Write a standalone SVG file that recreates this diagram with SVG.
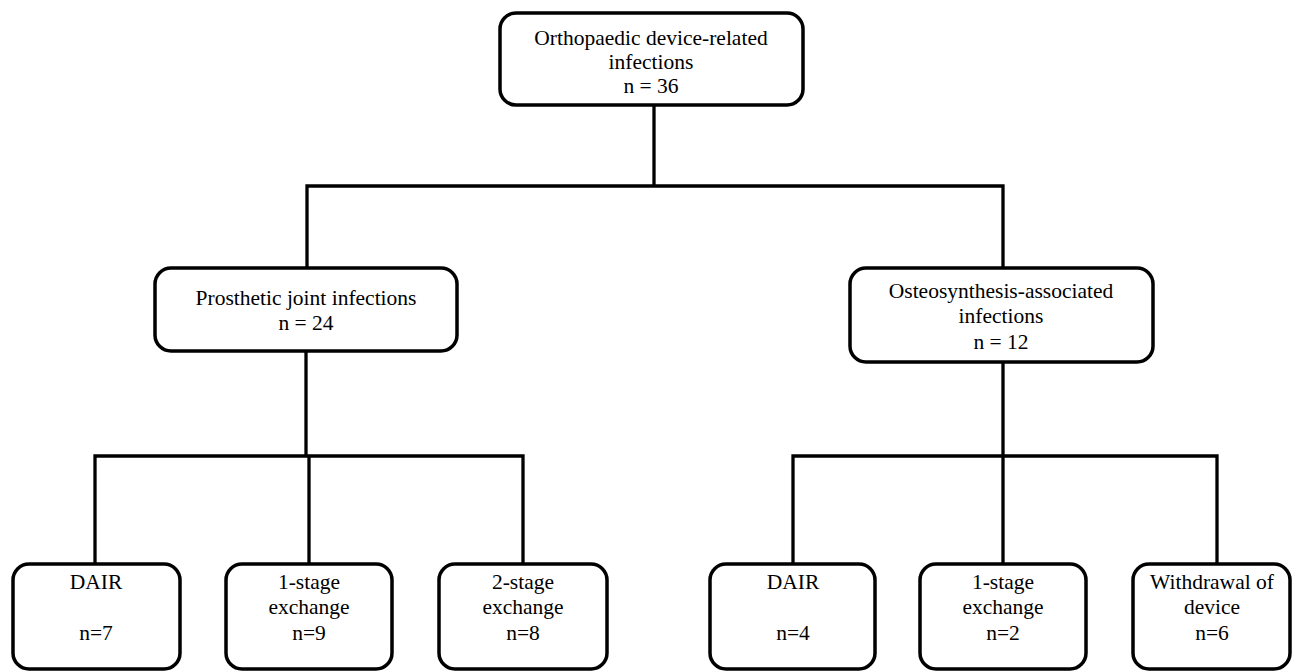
<svg xmlns="http://www.w3.org/2000/svg" width="1292" height="672" viewBox="0 0 1292 672">
<style>
.box{fill:#fff;stroke:#000;stroke-width:3.5}
.ln{fill:none;stroke:#000;stroke-width:3.3;stroke-linejoin:miter;stroke-linecap:square}
text{font-family:'Liberation Serif','Times New Roman',Times,Tinos,'DejaVu Serif',serif;font-size:21.5px;fill:#000;text-anchor:middle}
</style>
<rect width="1292" height="672" fill="#fff"/>
<g id="connectors">
<path class="ln" d="M654,105 V186 M307,268 V186 H1003 V268"/>
<path class="ln" d="M306,351 V456 M95,564 V456 H523 V564 M309,456 V564"/>
<path class="ln" d="M1003,362 V456 M793,564 V456 H1217 V564 M1003,456 V564"/>
</g>
<g id="n_root">
<rect class="box" x="500" y="13" width="303" height="92" rx="16"/>
<text x="651" y="45">Orthopaedic device-related</text>
<text x="651" y="69">infections</text>
<text x="651" y="93">n = 36</text>
</g>
<g id="n_pji">
<rect class="box" x="155" y="268" width="302" height="83" rx="16"/>
<text x="306" y="305">Prosthetic joint infections</text>
<text x="306" y="330">n = 24</text>
</g>
<g id="n_osi">
<rect class="box" x="850" y="268" width="303" height="94" rx="16"/>
<text x="1001" y="298">Osteosynthesis-associated</text>
<text x="1001" y="323">infections</text>
<text x="1001" y="349">n = 12</text>
</g>
<g id="n_dair1">
<rect class="box" x="13" y="564" width="167" height="105" rx="16"/>
<text x="96" y="589">DAIR</text>
<text x="96" y="640">n=7</text>
</g>
<g id="n_1st1">
<rect class="box" x="226" y="564" width="166" height="105" rx="16"/>
<text x="309" y="589">1-stage</text>
<text x="309" y="614">exchange</text>
<text x="309" y="640">n=9</text>
</g>
<g id="n_2st1">
<rect class="box" x="439" y="564" width="168" height="105" rx="16"/>
<text x="523" y="589">2-stage</text>
<text x="523" y="614">exchange</text>
<text x="523" y="640">n=8</text>
</g>
<g id="n_dair2">
<rect class="box" x="710" y="564" width="165" height="105" rx="16"/>
<text x="793" y="589">DAIR</text>
<text x="793" y="640">n=4</text>
</g>
<g id="n_1st2">
<rect class="box" x="920" y="564" width="166" height="105" rx="16"/>
<text x="1003" y="589">1-stage</text>
<text x="1003" y="614">exchange</text>
<text x="1003" y="640">n=2</text>
</g>
<g id="n_wd">
<rect class="box" x="1133" y="564" width="157" height="105" rx="16"/>
<text x="1212" y="589">Withdrawal of</text>
<text x="1212" y="614">device</text>
<text x="1212" y="640">n=6</text>
</g>
</svg>
